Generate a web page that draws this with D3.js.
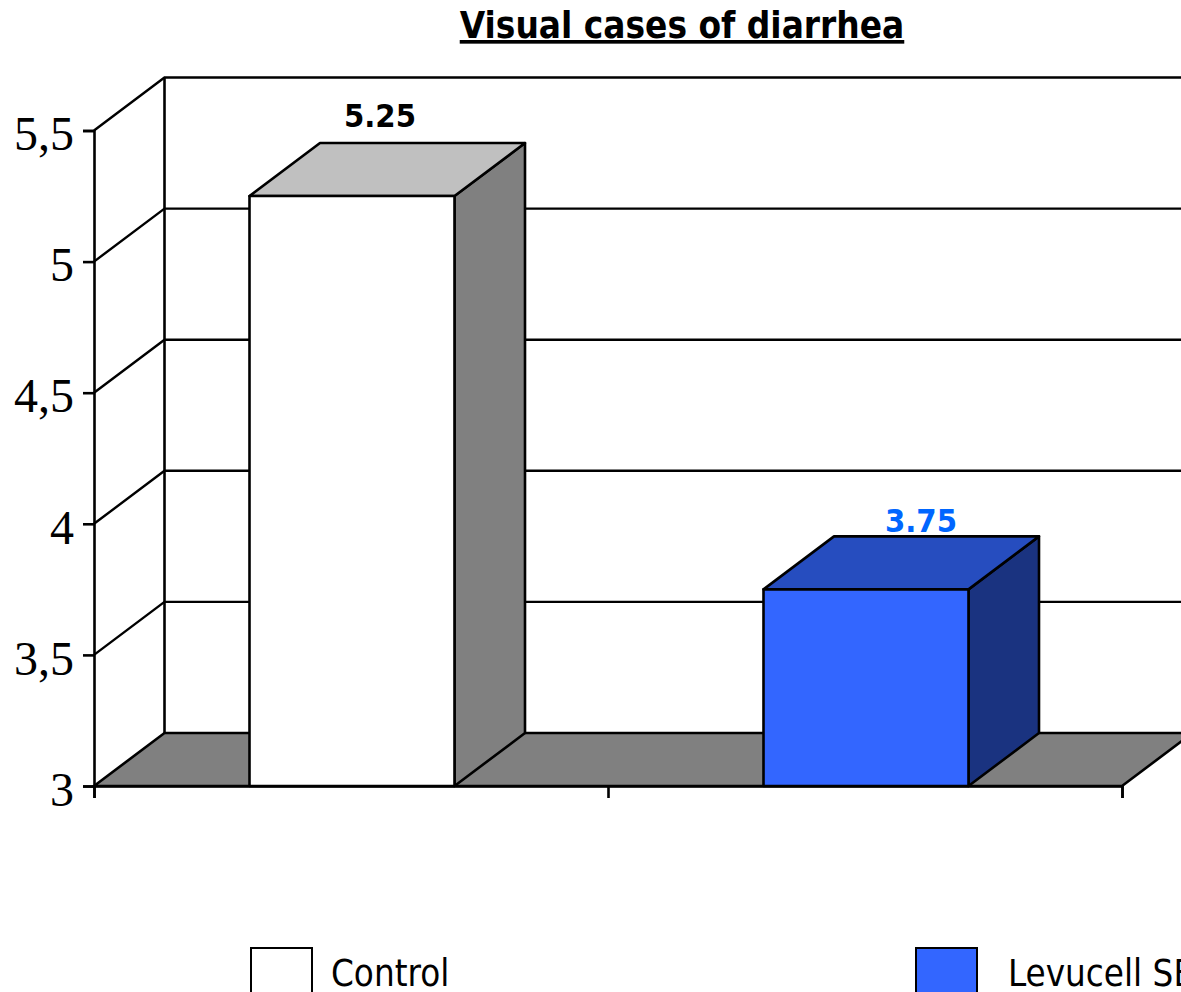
<!DOCTYPE html>
<html lang="en">
<head>
    <meta charset="UTF-8">
    <title>Visual cases of diarrhea</title>
    <script src="https://cdn.jsdelivr.net/npm/d3@7/dist/d3.min.js"></script>
    <style>
        html, body { margin: 0; background: #fff; overflow: hidden; }
        svg { display: block; }
    </style>
</head>
<body>
<svg></svg>

<script>
    const categories = ["Control", "Levucell SB"];
    const values = [5.25, 3.75];
    const valueLabels = ["5.25", "3.75"];
    const yTicks = [3, 3.5, 4, 4.5, 5, 5.5];
    const faceColors = ["#ffffff", "#3366ff"];
    const topColors = ["#c0c0c0", "#264dbf"];
    const sideColors = ["#808080", "#1a3380"];
    const labelColors = ["#000000", "#0066ff"];

    const width = 1181, height = 992;
    const depthX = 70.5, depthY = 53;
    const sans = "Tahoma, 'DejaVu Sans Condensed', 'DejaVu Sans', sans-serif";

    const svg = d3.select("svg").attr("width", width).attr("height", height);

    const x = d3.scaleBand().domain(categories).range([94, 1122]).paddingInner(0).paddingOuter(0);
    const y = d3.scaleLinear().domain([3, 5.5]).range([786, 130.5]);
    const barWidth = 205;

    // back wall and floor
    const [x0, x1] = x.range();
    const floorBack = y(3) - depthY;

    svg.append("path")
        .attr("d", `M${x0},${y(3)}L${x0 + depthX},${floorBack}L${x1 + depthX},${floorBack}L${x1},${y(3)}Z`)
        .attr("fill", "#808080").attr("stroke", "#000").attr("stroke-width", 2.6);

    svg.append("g")
        .attr("fill", "none").attr("stroke", "#000").attr("stroke-width", 2.4)
        .selectAll("path")
        .data(yTicks.slice(1))
        .join("path")
        .attr("d", d => `M${x0},${y(d)}L${x0 + depthX},${y(d) - depthY}L${x1 + depthX},${y(d) - depthY}`);

    svg.append("line")
        .attr("x1", x0 + depthX).attr("x2", x0 + depthX)
        .attr("y1", y(5.5) - depthY).attr("y2", floorBack)
        .attr("stroke", "#000").attr("stroke-width", 2.6);

    // axes
    const yAxis = svg.append("g")
        .attr("transform", `translate(${x0},0)`)
        .call(d3.axisLeft(y).tickValues(yTicks).tickSize(11).tickPadding(9)
            .tickFormat(d => String(d).replace(".", ",")));
    yAxis.selectAll("path, line").attr("stroke", "#000").attr("stroke-width", 2.6);
    yAxis.selectAll("text")
        .attr("dy", "0.4em")
        .attr("font-family", "'Liberation Serif', serif")
        .attr("font-size", 48)
        .attr("fill", "#000");

    const xAxis = svg.append("g")
        .attr("transform", `translate(0,${y(3)})`)
        .call(d3.axisBottom(d3.scaleLinear().domain([0, 2]).range([x0, x1]))
            .tickValues([0, 1, 2]).tickSize(12).tickFormat(""));
    xAxis.selectAll("path, line").attr("stroke", "#000").attr("stroke-width", 2.6);

    // bars
    const bars = svg.append("g")
        .attr("stroke", "#000").attr("stroke-width", 2.6).attr("stroke-linejoin", "round")
        .selectAll("g")
        .data(categories)
        .join("g");

    const barLeft = d => x(d) + (x.bandwidth() - barWidth) / 2 + 1;
    const barTop = (d, i) => y(values[i]);

    bars.append("path")
        .attr("fill", (d, i) => sideColors[i])
        .attr("d", (d, i) => {
            const r = barLeft(d) + barWidth, t = barTop(d, i);
            return `M${r},${t}L${r + depthX},${t - depthY}L${r + depthX},${y(3) - depthY}L${r},${y(3)}Z`;
        });
    bars.append("path")
        .attr("fill", (d, i) => topColors[i])
        .attr("d", (d, i) => {
            const l = barLeft(d), t = barTop(d, i);
            return `M${l},${t}L${l + depthX},${t - depthY}L${l + barWidth + depthX},${t - depthY}L${l + barWidth},${t}Z`;
        });
    bars.append("rect")
        .attr("fill", (d, i) => faceColors[i])
        .attr("x", barLeft)
        .attr("y", barTop)
        .attr("width", barWidth)
        .attr("height", (d, i) => y(3) - barTop(d, i));

    // value labels, the second one sits further right and lower in the original
    svg.append("g")
        .selectAll("text")
        .data(categories)
        .join("text")
        .attr("x", (d, i) => barLeft(d) + barWidth / 2 + (i ? 55 : 28))
        .attr("y", (d, i) => barTop(d, i) - (i ? 57 : 69))
        .attr("text-anchor", "middle")
        .attr("font-family", sans)
        .attr("font-weight", "bold")
        .attr("font-size", 32.5)
        .attr("fill", (d, i) => labelColors[i])
        .text((d, i) => valueLabels[i]);

    // title
    svg.append("text")
        .attr("x", 682).attr("y", 38)
        .attr("text-anchor", "middle")
        .attr("font-family", sans)
        .attr("font-weight", "bold")
        .attr("font-size", 36.6)
        .attr("text-decoration", "underline")
        .text("Visual cases of diarrhea");

    // legend
    const legendX = d3.scaleOrdinal().domain(categories).range([251, 916]);
    const legend = svg.append("g").selectAll("g").data(categories).join("g")
        .attr("transform", d => `translate(${legendX(d)},948)`);
    legend.append("rect")
        .attr("width", 61).attr("height", 61)
        .attr("fill", (d, i) => faceColors[i])
        .attr("stroke", "#000").attr("stroke-width", 2);
    legend.append("text")
        .attr("x", (d, i) => i ? 92 : 80).attr("y", 38)
        .attr("font-family", sans)
        .attr("font-size", 36.4)
        .attr("fill", "#000")
        .text(d => d);
</script>
</body>
</html>
